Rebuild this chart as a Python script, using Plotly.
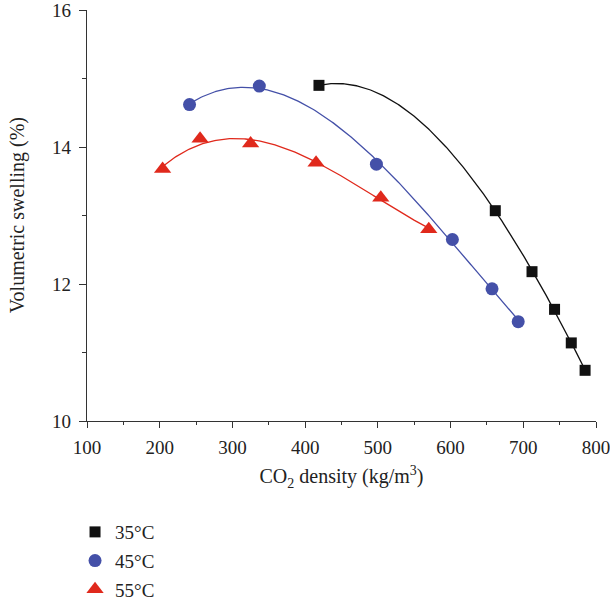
import numpy as np
import plotly.graph_objects as go

# Data
x35 = [419, 661.5, 712, 743, 766, 785]
y35 = [14.90, 13.07, 12.18, 11.63, 11.14, 10.74]
x45 = [241, 337, 498, 602.5, 657, 693]
y45 = [14.62, 14.89, 13.75, 12.65, 11.93, 11.45]
x55 = [204, 255.5, 325, 415, 504, 570]
y55 = [13.68, 14.12, 14.05, 13.77, 13.26, 12.80]
names = ["35°C", "45°C", "55°C"]

colors = ["#111111", "#4450A8", "#E0291C"]
symbols = ["square", "circle", "triangle-up"]
sizes = [11, 13, 15]
series = [(x35, y35), (x45, y45), (x55, y55)]

fig = go.Figure()

# fitted curves (polynomial fit of each series)
for (xs, ys), c in zip(series, colors):
    coef = np.polyfit(xs, ys, 3)
    xf = np.linspace(min(xs), max(xs), 200)
    fig.add_trace(go.Scatter(x=xf, y=np.polyval(coef, xf), mode="lines",
                             line=dict(color=c, width=1.3), showlegend=False,
                             hoverinfo="skip"))

for i, ((xs, ys), c, s, sz, n) in enumerate(zip(series, colors, symbols, sizes, names)):
    fig.add_trace(go.Scatter(x=xs, y=ys, mode="markers", name=n,
                             legendgroup=f"g{i}",
                             marker=dict(color=c, symbol=s, size=sz,
                                         line=dict(width=0))))

font_family = "Liberation Serif, Times New Roman, serif"
axis_common = dict(showline=True, linecolor="#333333", linewidth=1.3,
                   ticks="outside", tickcolor="#333333", tickwidth=1.3,
                   showgrid=False, zeroline=False, mirror=False,
                   ticklabeloverflow="allow",
                   tickfont=dict(family=font_family, size=19, color="#222222"))

fig.update_layout(
    width=610, height=605,
    margin=dict(l=87, r=14, t=10, b=184, autoexpand=False),
    paper_bgcolor="white", plot_bgcolor="white",
    font=dict(family=font_family, size=19, color="#222222"),
    xaxis=dict(range=[100, 800], dtick=100, ticklen=6,
               minor=dict(dtick=50, ticks="outside", ticklen=3, tickcolor="#333333", tickwidth=1.3),
               title=dict(text="CO<sub>2</sub> density (kg/m<sup>3</sup>)",
                          font=dict(family=font_family, size=20), standoff=12),
               ticklabelstandoff=3,
               **axis_common),
    yaxis=dict(range=[10, 16], dtick=2, ticklen=7,
               minor=dict(dtick=1, ticks="outside", ticklen=4, tickcolor="#333333", tickwidth=1.3),
               ticklabelstandoff=4,
               **axis_common),
    annotations=[dict(text="Volumetric swelling (%)", textangle=-90,
                      xref="paper", yref="paper", x=-0.136, y=0.5,
                      xanchor="center", yanchor="middle", showarrow=False,
                      font=dict(family=font_family, size=20, color="#222222"))],
    legend=dict(x=0.123, y=0.152, xref="container", yref="container",
                xanchor="left", yanchor="top",
                font=dict(family=font_family, size=19, color="#222222"),
                tracegroupgap=1, bgcolor="rgba(0,0,0,0)"),
    showlegend=True,
)

fig.write_html("out.html")
